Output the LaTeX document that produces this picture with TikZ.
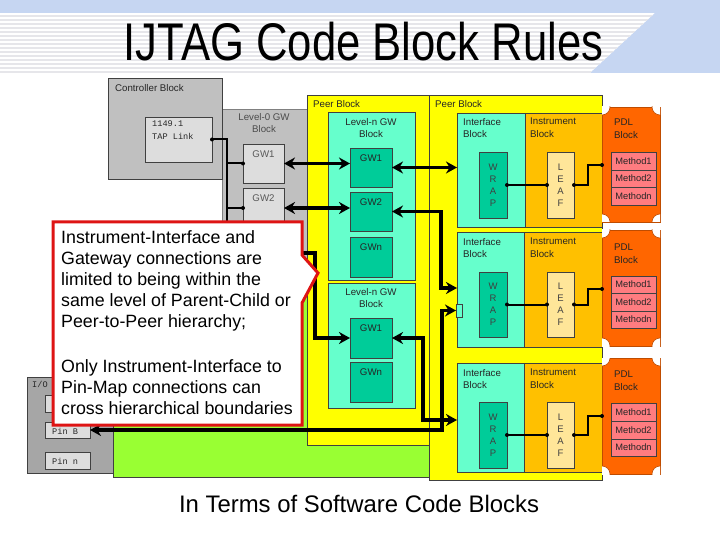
\documentclass[tikz,border=0pt]{standalone}
\usepackage{fontspec}
\setmainfont{Liberation Sans}
\setmonofont{Liberation Mono}
\usetikzlibrary{arrows.meta,calc}
\definecolor{hdrblue}{RGB}{198,214,242}
\definecolor{stripe}{RGB}{230,230,234}
\definecolor{ctrlgray}{RGB}{192,192,192}
\definecolor{boxgray}{RGB}{221,221,221}
\definecolor{iogray}{RGB}{166,166,166}
\definecolor{limegreen}{RGB}{153,255,51}
\definecolor{peeryellow}{RGB}{255,255,0}
\definecolor{ifcyan}{RGB}{102,255,204}
\definecolor{gwteal}{RGB}{0,204,153}
\definecolor{instorange}{RGB}{255,192,0}
\definecolor{leafcream}{RGB}{255,230,153}
\definecolor{pdlorange}{RGB}{255,102,0}
\definecolor{methpink}{RGB}{255,124,128}
\definecolor{calloutred}{RGB}{222,20,20}
\newcommand\placebox[7]{\node[anchor=north west,inner sep=0pt,outer sep=0pt,minimum width={(#4-#2)*1pt},minimum height={(#5-#3)*1pt},#6] (#1) at (#2,#3) {#7};}
\tikzset{
  blk/.style={draw=black!75, line width=0.6pt},
  lbl/.style={anchor=north west, inner sep=0pt, align=left, font=\fontsize{9.7}{12.5}\selectfont, text=black!85},
  clbl/.style={anchor=north, inner sep=0pt, align=center, font=\fontsize{9.7}{12.5}\selectfont, text=black!85},
  monolbl/.style={anchor=north west, inner sep=0pt, align=left, font=\ttfamily\fontsize{8.6}{13}\selectfont, text=black!85},
  stack/.style={inner sep=0pt, align=center, font=\fontsize{9.5}{12}\selectfont, text=black!75},
  meth/.style={blk, fill=methpink, font=\fontsize{9.3}{11}\selectfont, text=black!85},
  pdlbox/.style={fill=pdlorange, draw=pdlorange!75!black, line width=0.6pt},
  conn/.style={draw=black, line width=3.5pt},
  dbl/.style={conn, {Stealth[length=11pt,width=12pt]}-{Stealth[length=11pt,width=12pt]}},
  bus/.style={draw=black, line width=2pt},
}
\begin{document}
\begin{tikzpicture}[x=1pt,y=-1pt]
\useasboundingbox (0,0) rectangle (720,540);
\fill[white] (0,0) rectangle (720,540);
% header
\fill[hdrblue] (0,0) -- (720,0) -- (720,73) -- (590,73) -- (655,13) -- (0,13) -- cycle;
\begin{scope}
\clip (0,13) -- (655,13) -- (590,73) -- (0,73) -- cycle;
\foreach \i in {0,...,14} \fill[stripe] (0,{15+4*\i}) rectangle (720,{17+4*\i});
\end{scope}
\node[anchor=base, inner sep=0pt, font=\fontsize{53}{60}\selectfont] (title) at (363.5,61) {\scalebox{0.824}[1]{IJTAG Code Block Rules}};
% I/O block and pins
\placebox{io}{27}{377}{115}{473}{blk, fill=iogray}{}
\node[monolbl] (iot) at (32,381) {I/O};
\placebox{pina}{45}{395}{90}{412}{blk, fill=boxgray}{}
\placebox{pinb}{45}{422}{90}{438}{blk, fill=boxgray}{}
\placebox{pinn}{45}{452}{90}{469}{blk, fill=boxgray}{}
\node[monolbl, anchor=west] (pinbt) at (52,431) {Pin B};
\node[monolbl, anchor=west] (pinnt) at (52,461) {Pin n};
% green top block
\placebox{top}{113}{282}{430}{477}{blk, fill=limegreen}{}
% level-0 GW block and controller
\placebox{lvl0}{222}{109}{307}{282}{draw=black!50, line width=0.6pt, fill=ctrlgray}{}
\placebox{ctrl}{108}{78}{222}{179}{blk, fill=ctrlgray}{}
\node[lbl] (ctrlt) at (115,84) {Controller Block};
\placebox{tap}{145}{117}{212}{162}{blk, fill=boxgray}{}
\node[monolbl] (tapt) at (152,121) {1149.1\\TAP Link};
\node[clbl, text=black!70] (lvl0t) at (264,113) {Level-0 GW\\Block};
\placebox{gw01}{243}{144}{284}{183}{blk, fill=boxgray}{}
\placebox{gw02}{243}{188}{284}{228}{blk, fill=boxgray}{}
\placebox{gw0n}{243}{233}{284}{273}{blk, fill=boxgray}{}
\node[clbl, text=black!65] (gw01t) at ($(gw01.north)+(0,7)$) {GW1};
\node[clbl, text=black!65] (gw02t) at ($(gw02.north)+(0,7)$) {GW2};
% peer blocks
\placebox{peer1}{307}{95}{429}{445}{blk, fill=peeryellow}{}
\placebox{peer2}{429}{95}{602}{480}{blk, fill=peeryellow}{}
\node[lbl] (peer1t) at (313,100) {Peer Block};
\node[lbl] (peer2t) at (435,100) {Peer Block};
% level-n GW blocks
\placebox{lna}{328}{112}{415}{280}{blk, fill=ifcyan}{}
\placebox{lnb}{328}{283}{415}{408}{blk, fill=ifcyan}{}
\node[clbl] (lnat) at (371,118) {Level-n GW\\Block};
\node[clbl] (lnbt) at (371,288) {Level-n GW\\Block};
\placebox{gwa1}{350}{148}{392}{187}{blk, fill=gwteal}{}
\placebox{gwa2}{350}{192}{392}{231}{blk, fill=gwteal}{}
\placebox{gwan}{350}{237}{392}{277}{blk, fill=gwteal}{}
\placebox{gwb1}{350}{318}{392}{358}{blk, fill=gwteal}{}
\placebox{gwbn}{350}{362}{392}{402}{blk, fill=gwteal}{}
\foreach \g/\t in {gwa1/GW1, gwa2/GW2, gwan/GWn, gwb1/GW1, gwbn/GWn}
  \node[clbl] (\g t) at ($(\g.north)+(0,6.5)$) {\t};
% interface / instrument blocks
\placebox{if1}{457}{113}{525}{227}{blk, fill=ifcyan}{}
\placebox{in1}{525}{113}{602}{227}{blk, fill=instorange}{}
\placebox{if2}{457}{232}{524}{347}{blk, fill=ifcyan}{}
\placebox{in2}{524}{232}{602}{347}{blk, fill=instorange}{}
\placebox{if3}{457}{363}{524}{472}{blk, fill=ifcyan}{}
\placebox{in3}{524}{363}{602}{472}{blk, fill=instorange}{}
\node[lbl] (if1t) at (463,118) {Interface\\Block};
\node[lbl] (in1t) at (530,118) {Instrument\\Block};
\node[lbl] (if2t) at (463,238) {Interface\\Block};
\node[lbl] (in2t) at (530,238) {Instrument\\Block};
\node[lbl] (if3t) at (463,369) {Interface\\Block};
\node[lbl] (in3t) at (530,369) {Instrument\\Block};
\placebox{wrap1}{479}{152}{507}{218}{blk, fill=gwteal}{}
\placebox{leaf1}{547}{152}{574}{218}{blk, fill=leafcream}{}
\placebox{wrap2}{479}{272}{507}{337}{blk, fill=gwteal}{}
\placebox{leaf2}{547}{272}{574}{337}{blk, fill=leafcream}{}
\placebox{wrap3}{479}{402}{507}{468}{blk, fill=gwteal}{}
\placebox{leaf3}{547}{402}{574}{468}{blk, fill=leafcream}{}
\foreach \k in {1,2,3}{
  \node[stack] (wrap\k t) at (wrap\k.center) {W\\R\\A\\P};
  \node[stack] (leaf\k t) at (leaf\k.center) {L\\E\\A\\F};
}
\placebox{sbox}{456}{304}{462}{317}{blk, fill=ifcyan}{}
% PDL blocks
\placebox{pdl1}{602}{107}{660}{222}{pdlbox}{}
\placebox{pdl2}{602}{230}{660}{346}{pdlbox}{}
\placebox{pdl3}{602}{358}{660}{474}{pdlbox}{}
\foreach \p in {pdl1,pdl2,pdl3}{
  \begin{scope}
  \clip (\p.north west) rectangle (\p.south east);
  \foreach \c in {north west, north east, south west, south east}
    \filldraw[fill=white, draw=pdlorange!75!black, line width=0.6pt] (\p.\c) circle (8pt);
  \end{scope}
}
\node[lbl] (pdl1t) at (614,119) {PDL\\Block};
\node[lbl] (pdl2t) at (614,244) {PDL\\Block};
\node[lbl] (pdl3t) at (614,371) {PDL\\Block};
\placebox{m11}{611}{152}{656}{170}{meth}{Method1}
\placebox{m12}{611}{170}{656}{187}{meth}{Method2}
\placebox{m13}{611}{187}{656}{205}{meth}{Methodn}
\placebox{m21}{611}{276}{656}{293}{meth}{Method1}
\placebox{m22}{611}{293}{656}{311}{meth}{Method2}
\placebox{m23}{611}{311}{656}{328}{meth}{Methodn}
\placebox{m31}{611}{403}{656}{421}{meth}{Method1}
\placebox{m32}{611}{421}{656}{439}{meth}{Method2}
\placebox{m33}{611}{439}{656}{456}{meth}{Methodn}
% thin connectors
\coordinate (busx) at (227,0);
\draw[bus] (tap.east) -| (gw0n.west -| busx) -- (gw0n.west);
\draw[bus] (gw01.west -| busx) -- (gw01.west);
\draw[bus] (gw02.west -| busx) -- (gw02.west);
\foreach \d in {tap.east, gw01.west, gw02.west, gw0n.west} \fill (\d) circle (2pt);
\foreach \k/\dy in {1/58, 2/59, 3/58}{
  \draw[bus] (wrap\k.east) -- (leaf\k.west);
  \draw[bus] (leaf\k.east) -| (588,0 |- leaf\k.east) |- ($(pdl\k.north west)+(0,\dy)$);
  \foreach \d in {wrap\k.east, leaf\k.west, leaf\k.east} \fill (\d) circle (2pt);
  \fill ($(pdl\k.north west)+(0,\dy)$) circle (2pt);
}
% thick connectors
\coordinate (d1) at (441,250);
\coordinate (e1) at (423,380);
\coordinate (f1) at (442,380);
\coordinate (g1) at (315,300);
\draw[dbl] (gw01.east) -- (gw01.east -| gwa1.west);
\draw[dbl] (gw02.east) -- (gw02.east -| gwa2.west);
\draw[dbl] (gwa1.east) -- (gwa1.east -| if1.west);
\draw[dbl] (gwa2.east) -| (d1) |- ($(if2.north west)+(0,56)$);
\draw[dbl] (gw0n.east) -| (g1) |- (gwb1.west);
\draw[dbl] (gwb1.east) -| (e1) |- ($(if3.north west)+(0,57)$);
\draw[dbl] (pinb.east) -| (f1) |- (sbox.west);
% callout
\draw[calloutred, line width=3pt, fill=white, line join=miter] (53,222) -- (302,222) -- (302,255) -- (318,273) -- (302,303) -- (302,425) -- (53,425) -- cycle;
\node[anchor=north west, inner sep=0pt, align=left, font=\fontsize{17.8}{21}\selectfont] (callt) at (61,230) {Instrument-Interface and\\Gateway connections are\\limited to being within the\\same level of Parent-Child or\\Peer-to-Peer hierarchy;\\[24pt]Only Instrument-Interface to\\Pin-Map connections can\\cross hierarchical boundaries};
% caption
\node[anchor=base, inner sep=0pt, font=\fontsize{23.9}{28}\selectfont] (caption) at (359,512) {In Terms of Software Code Blocks};
\end{tikzpicture}
\end{document}
